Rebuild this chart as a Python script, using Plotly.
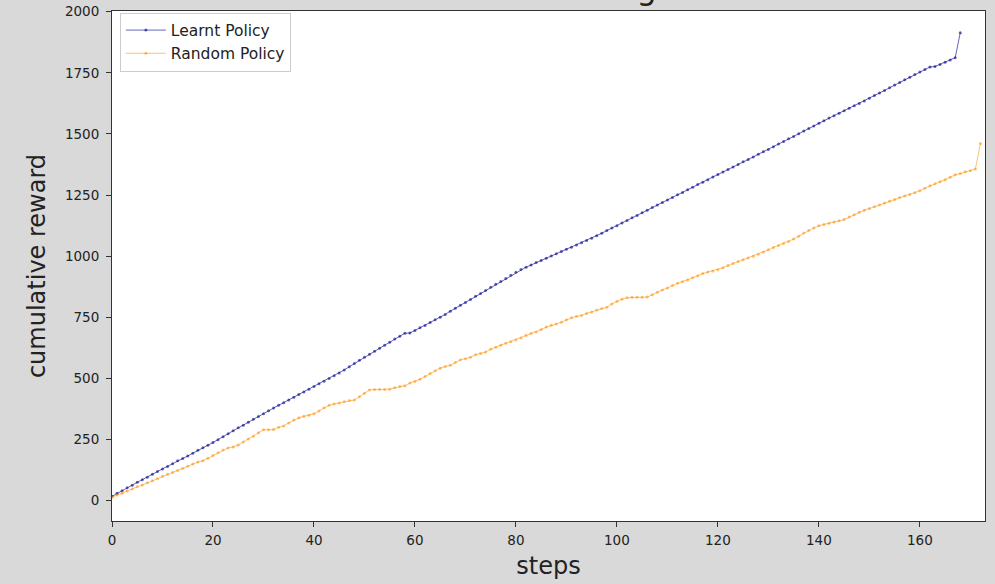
import plotly.graph_objects as go

learnt_steps = list(range(169))
learnt_reward = [
    18, 30, 41, 53, 63, 75, 86, 96, 108, 119,
    130, 140, 151, 163, 173, 183, 194, 206, 217, 227,
    238, 249, 262, 274, 286, 298, 309, 321, 333, 344,
    356, 368, 379, 390, 401, 412, 423, 434, 445, 456,
    467, 478, 489, 500, 511, 522, 535, 548, 561, 574,
    587, 599, 611, 624, 636, 648, 661, 673, 685, 686,
    696, 707, 717, 729, 740, 750, 762, 775, 787, 799,
    811, 823, 836, 848, 860, 873, 885, 897, 909, 922,
    934, 946, 955, 964, 974, 983, 992, 1001, 1010, 1019,
    1028, 1037, 1046, 1055, 1064, 1074, 1084, 1094, 1105, 1115,
    1125, 1136, 1146, 1157, 1167, 1178, 1188, 1199, 1209, 1220,
    1230, 1240, 1251, 1261, 1272, 1282, 1293, 1303, 1313, 1324,
    1334, 1344, 1355, 1365, 1375, 1386, 1396, 1406, 1417, 1427,
    1437, 1448, 1459, 1469, 1480, 1490, 1501, 1512, 1522, 1533,
    1544, 1554, 1565, 1575, 1585, 1595, 1605, 1615, 1625, 1635,
    1646, 1657, 1668, 1678, 1689, 1700, 1711, 1722, 1732, 1743,
    1754, 1764, 1774, 1776, 1784, 1793, 1803, 1812, 1914,
]

random_steps = list(range(173))
random_reward = [
    14, 23, 31, 40, 48, 57, 64, 73, 82, 90,
    100, 108, 115, 124, 132, 141, 150, 158, 163, 174,
    185, 196, 207, 216, 220, 228, 240, 252, 264, 278,
    290, 290, 291, 300, 306, 318, 330, 339, 345, 350,
    356, 367, 380, 390, 396, 400, 405, 410, 412, 425,
    440, 453, 455, 455, 455, 456, 462, 467, 470, 481,
    488, 497, 508, 520, 532, 542, 549, 554, 565, 576,
    581, 587, 597, 602, 608, 620, 628, 636, 644, 650,
    657, 666, 676, 684, 690, 700, 710, 718, 723, 730,
    740, 748, 754, 758, 766, 772, 780, 786, 791, 805,
    816, 824, 830, 832, 832, 832, 833, 842, 853, 862,
    870, 880, 889, 896, 903, 912, 920, 929, 935, 940,
    945, 953, 962, 970, 978, 986, 993, 1000, 1008, 1017,
    1026, 1036, 1044, 1052, 1060, 1070, 1082, 1095, 1105, 1115,
    1125, 1130, 1135, 1140, 1145, 1150, 1160, 1170, 1180, 1188,
    1195, 1202, 1210, 1218, 1225, 1232, 1240, 1246, 1252, 1260,
    1268, 1278, 1288, 1296, 1305, 1313, 1323, 1333, 1338, 1345,
    1350, 1357, 1461,
]

x_ticks = [0, 20, 40, 60, 80, 100, 120, 140, 160]
y_ticks = [0, 250, 500, 750, 1000, 1250, 1500, 1750, 2000]

title_text = "Cumulative Reward Accumulation using Learnt vs Random Policy"

fig = go.Figure()
fig.add_trace(go.Scatter(
    x=learnt_steps, y=learnt_reward, mode="lines+markers", name="Learnt Policy",
    line=dict(color="rgba(0,0,139,0.6)", width=1),
    marker=dict(color="rgba(0,0,139,0.6)", size=3),
))
fig.add_trace(go.Scatter(
    x=random_steps, y=random_reward, mode="lines+markers", name="Random Policy",
    line=dict(color="rgba(255,140,0,0.55)", width=1),
    marker=dict(color="rgba(255,140,0,0.55)", size=3),
))

tick_font = dict(family="DejaVu Sans", size=13.5, color="#222222")

fig.update_layout(
    width=995, height=584,
    paper_bgcolor="#d9d9d9", plot_bgcolor="white",
    margin=dict(l=112, r=10, t=11, b=63, autoexpand=False),
    showlegend=True,
    legend=dict(
        x=0.009, y=0.997, xanchor="left", yanchor="top",
        bgcolor="rgba(255,255,255,0.9)", bordercolor="#cccccc", borderwidth=1,
        font=dict(family="DejaVu Sans", size=15.5, color="#222222"),
        tracegroupgap=2, itemwidth=40,
    ),
    annotations=[dict(
        text=title_text, xref="paper", yref="paper", x=0.49, y=1.003,
        xanchor="center", yanchor="bottom", showarrow=False,
        font=dict(family="DejaVu Sans", size=32, color="#222222"),
    )],
)

fig.update_xaxes(
    range=[0, 172.9], tickvals=x_ticks, ticktext=[str(v) for v in x_ticks],
    showgrid=False, zeroline=False, showline=True, linecolor="#333333", linewidth=1,
    mirror=True, ticks="outside", ticklen=5, tickcolor="#333333", tickfont=tick_font,
    automargin=False, ticklabelstandoff=2,
    title=dict(text="steps", font=dict(family="DejaVu Sans", size=24, color="#222222"), standoff=9),
)
fig.update_yaxes(
    range=[-83, 2003], tickvals=y_ticks, ticktext=[str(v) for v in y_ticks],
    showgrid=False, zeroline=False, showline=True, linecolor="#333333", linewidth=1,
    mirror=True, ticks="outside", ticklen=5, tickcolor="#333333", tickfont=tick_font,
    automargin=False, ticklabelstandoff=4,
    title=dict(text="cumulative reward", font=dict(family="DejaVu Sans", size=24, color="#222222"), standoff=12),
)

fig.write_html(
    "out.html",
    config={"displayModeBar": False},
    post_script="document.body.style.margin='0';document.body.style.background='#d9d9d9';",
)
